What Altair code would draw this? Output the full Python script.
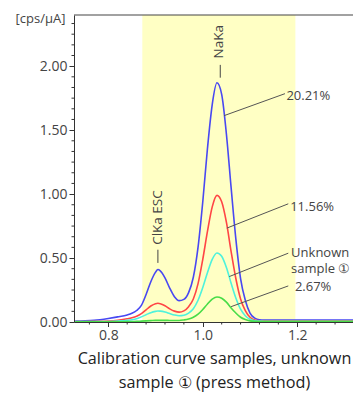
import altair as alt
import pandas as pd

# ---------------- data ----------------
energy = [0.73, 0.75, 0.77, 0.80, 0.82, 0.84, 0.85, 0.86, 0.87, 0.88, 0.89, 0.90, 0.905,
          0.91, 0.92, 0.93, 0.94, 0.95, 0.96, 0.97, 0.98, 0.99, 1.00, 1.01, 1.02, 1.03,
          1.04, 1.05, 1.06, 1.07, 1.08, 1.09, 1.10, 1.11, 1.12, 1.13, 1.16, 1.22, 1.28, 1.34]

s_2021 = [0.008, 0.010, 0.014, 0.028, 0.040, 0.055, 0.068, 0.090, 0.130, 0.215, 0.315, 0.390, 0.410,
          0.400, 0.345, 0.265, 0.198, 0.167, 0.177, 0.230, 0.350, 0.585, 0.940, 1.360, 1.700, 1.870,
          1.780, 1.470, 1.050, 0.650, 0.340, 0.170, 0.070, 0.030, 0.018, 0.016, 0.016, 0.016, 0.016, 0.016]

s_1156 = [0.004, 0.004, 0.005, 0.008, 0.014, 0.025, 0.033, 0.045, 0.065, 0.095, 0.125, 0.143, 0.146,
          0.143, 0.127, 0.103, 0.085, 0.077, 0.087, 0.120, 0.180, 0.300, 0.490, 0.710, 0.900, 0.990,
          0.940, 0.780, 0.550, 0.340, 0.180, 0.089, 0.037, 0.016, 0.010, 0.009, 0.009, 0.009, 0.009, 0.009]

s_unknown = [0.003, 0.003, 0.003, 0.004, 0.007, 0.013, 0.018, 0.026, 0.040, 0.057, 0.073, 0.083, 0.086,
             0.085, 0.078, 0.066, 0.055, 0.049, 0.053, 0.070, 0.104, 0.170, 0.270, 0.387, 0.490, 0.540,
             0.514, 0.426, 0.303, 0.188, 0.100, 0.049, 0.021, 0.010, 0.007, 0.006, 0.006, 0.006, 0.006, 0.006]

s_0267 = [0.001, 0.001, 0.001, 0.002, 0.002, 0.003, 0.004, 0.005, 0.007, 0.009, 0.011, 0.013, 0.013,
          0.013, 0.013, 0.012, 0.012, 0.012, 0.016, 0.023, 0.037, 0.061, 0.098, 0.141, 0.178, 0.196,
          0.186, 0.155, 0.110, 0.070, 0.037, 0.019, 0.009, 0.005, 0.004, 0.003, 0.003, 0.003, 0.003, 0.003]

series_names = ["20.21%", "11.56%", "Unknown sample ①", "2.67%"]
series_colors = ["#4848f2", "#ff4545", "#4ef2dc", "#48dc48"]

band_range = [0.872, 1.196]

peak_labels = ["NaKa", "ClKa ESC"]
peak_label_x = [1.035, 0.906]
peak_label_y = [2.06, 0.603]
peak_line_x = [1.037, 0.905]
peak_line_y1 = [2.01, 0.565]
peak_line_y2 = [1.91, 0.462]

sample_labels = ["20.21%", "11.56%", "Unknown\nsample ①", "2.67%"]
sample_label_x = [1.177, 1.185, 1.187, 1.195]
sample_label_y = [1.764, 0.902, 0.540, 0.272]

leader_x1 = [1.045, 1.051, 1.056, 1.060]
leader_y1 = [1.613, 0.734, 0.355, 0.120]
leader_x2 = [1.174, 1.181, 1.181, 1.181]
leader_y2 = [1.785, 0.924, 0.538, 0.282]

x_domain = [0.7274, 1.318]
y_domain = [0.0, 2.4]

x_major_ticks = [0.8, 1.0, 1.2]
y_major_ticks = [0.0, 0.5, 1.0, 1.5, 2.0]
x_minor_ticks = [0.76, 0.84, 0.88, 0.92, 0.96, 1.04, 1.08, 1.12, 1.16, 1.24, 1.28]
y_minor_ticks = [round(k / 12, 5) for k in range(1, 29) if k % 6 != 0]

# ---------------- tables ----------------
rows = []
for name, vals in zip(series_names, [s_2021, s_1156, s_unknown, s_0267]):
    for e, v in zip(energy, vals):
        rows.append({"energy": e, "value": v, "series": name})
spectra = pd.DataFrame(rows)

band = pd.DataFrame({"x1": [band_range[0]], "x2": [band_range[1]],
                     "y1": [y_domain[0]], "y2": [y_domain[1]]})
peaks_txt = pd.DataFrame({"x": peak_label_x, "y": peak_label_y, "t": peak_labels})
peaks_ln = pd.DataFrame({"x": peak_line_x, "y1": peak_line_y1, "y2": peak_line_y2})
samp_txt = pd.DataFrame({"x": sample_label_x, "y": sample_label_y, "t": sample_labels})
leaders = pd.DataFrame({"x1": leader_x1, "y1": leader_y1, "x2": leader_x2, "y2": leader_y2})
xmin_df = pd.DataFrame({"v": x_minor_ticks})
ymin_df = pd.DataFrame({"v": y_minor_ticks})

FONT = "Open Sans"
W, H = 279, 307

xs = alt.Scale(domain=x_domain, nice=False, zero=False)
ys = alt.Scale(domain=y_domain, nice=False, zero=False)

x_axis = alt.Axis(
    values=x_major_ticks, format=".1f", tickSize=4.5,
    grid=False, domainColor="#333", tickColor="#333",
    labelFont=FONT, labelFontSize=14, labelColor="#444", labelPadding=2,
    title=["Calibration curve samples, unknown", "sample ① (press method)"],
    titleFont=FONT, titleFontSize=16.2, titleFontWeight="normal", titleColor="#222",
    titleLineHeight=23.5, titlePadding=8, titleX=140,
)
y_axis = alt.Axis(
    values=y_major_ticks, format=".2f", tickSize=5,
    grid=False, domainColor="#333", tickColor="#333",
    labelFont=FONT, labelFontSize=14, labelColor="#444", labelPadding=2,
    title="[cps/µA]", titleAngle=0, titleAlign="right", titleBaseline="middle",
    titleX=-9, titleY=3, titleFont=FONT, titleFontSize=13, titleFontWeight="normal",
    titleColor="#444",
)


def X(field):
    return alt.X(field, scale=xs, axis=x_axis)


def Y(field):
    return alt.Y(field, scale=ys, axis=y_axis)


band_layer = alt.Chart(band).mark_rect(color="#ffffc4").encode(
    x=X("x1:Q"), x2="x2:Q", y=Y("y1:Q"), y2="y2:Q",
)

lines = alt.Chart(spectra).mark_line(strokeWidth=1.6, interpolate="monotone", clip=True).encode(
    x=X("energy:Q"), y=Y("value:Q"),
    color=alt.Color("series:N", scale=alt.Scale(domain=series_names, range=series_colors), legend=None),
)

# minor ticks
x_minor_rules = alt.Chart(xmin_df).mark_rule(color="#333", strokeWidth=1).encode(
    x=X("v:Q"), y=alt.value(H), y2=alt.value(H + 2.5)
)
y_minor_rules = alt.Chart(ymin_df).mark_rule(color="#333", strokeWidth=1).encode(
    y=Y("v:Q"), x=alt.value(0), x2=alt.value(-2.5)
)

peak_lines = alt.Chart(peaks_ln).mark_rule(color="#444", strokeWidth=1).encode(
    x=X("x:Q"), y=Y("y1:Q"), y2="y2:Q",
)

peak_text = alt.Chart(peaks_txt).mark_text(
    angle=270, align="left", baseline="middle", font=FONT, fontSize=13.5, color="#444"
).encode(
    x=X("x:Q"), y=Y("y:Q"), text="t:N",
)

leader_lines = alt.Chart(leaders).mark_rule(color="#555", strokeWidth=1).encode(
    x=X("x1:Q"), x2="x2:Q", y=Y("y1:Q"), y2="y2:Q",
)

samp_text = alt.Chart(samp_txt).mark_text(
    align="left", baseline="middle", font=FONT, fontSize=13, color="#444",
    lineBreak="\n", lineHeight=16.5,
).encode(
    x=X("x:Q"), y=Y("y:Q"), text="t:N",
)

top_border = alt.Chart(band).mark_rule(color="#444", strokeWidth=1.2).encode(
    x=alt.value(0), x2=alt.value(W), y=alt.value(0)
)

chart = alt.layer(
    band_layer, lines, x_minor_rules, y_minor_rules, peak_lines, peak_text,
    leader_lines, samp_text, top_border
).properties(
    width=W, height=H,
    autosize=alt.AutoSizeParams(type="none"),
    padding={"left": 66, "top": 7, "right": 0, "bottom": 72},
).configure(background="white").configure_view(stroke=None)

chart.save("out.html", embed_options={"renderer": "svg", "actions": False})
